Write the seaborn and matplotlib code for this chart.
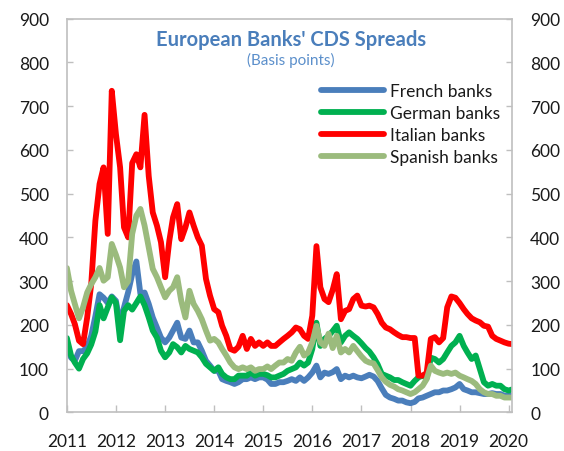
import numpy as np
import pandas as pd
import matplotlib
matplotlib.use("Agg")
import matplotlib.pyplot as plt
import matplotlib.dates as mdates
import seaborn as sns

# monthly readings, Jan 2011 .. Feb 2020 (basis points)
months = pd.date_range("2011-01-01", periods=110, freq="MS")

french = [150, 125, 118, 140, 140, 150, 175, 220, 270, 262, 250, 265,
          255, 200, 240, 275, 316, 345, 271, 274, 248, 217, 194, 171,
          160, 171, 187, 205, 171, 168, 187, 160, 160, 141, 118, 107,
          95, 95, 76, 72, 69, 65, 69, 76, 76, 80, 76, 80,
          80, 75, 65, 65, 69, 69, 72, 76, 72, 80, 72, 80,
          91, 107, 80, 91, 88, 92, 99, 76, 84, 80, 84, 80,
          78, 82, 86, 82, 72, 55, 40, 34, 31, 27, 27, 23,
          21, 24, 32, 34, 38, 42, 46, 46, 50, 50, 53, 57,
          65, 53, 50, 46, 46, 44, 42, 42, 44, 42, 42, 38,
          38, 38]

german = [170, 130, 114, 100, 122, 135, 155, 185, 245, 215, 240, 263,
          250, 165, 232, 245, 235, 250, 265, 245, 217, 187, 171, 141,
          126, 137, 156, 149, 137, 152, 145, 141, 137, 126, 111, 103,
          95, 103, 88, 80, 76, 76, 84, 84, 84, 91, 84, 88,
          88, 85, 80, 80, 84, 88, 95, 99, 103, 114, 107, 114,
          145, 205, 152, 168, 175, 186, 198, 160, 175, 183, 175, 168,
          158, 147, 139, 126, 110, 88, 84, 80, 74, 74, 69, 65,
          61, 72, 80, 84, 78, 125, 122, 114, 122, 137, 152, 160,
          175, 152, 137, 122, 130, 99, 69, 61, 65, 61, 61, 53,
          50, 53]

italian = [245, 225, 202, 164, 156, 217, 293, 438, 522, 560, 408, 735,
           636, 560, 423, 400, 570, 590, 560, 680, 540, 457, 427, 389,
           309, 392, 446, 476, 396, 423, 457, 427, 400, 381, 305, 267,
           236, 229, 198, 175, 145, 141, 150, 175, 145, 168, 152, 160,
           152, 160, 152, 152, 160, 168, 175, 183, 194, 190, 175, 168,
           221, 380, 286, 259, 252, 280, 316, 213, 232, 236, 259, 267,
           244, 242, 244, 240, 225, 205, 194, 190, 183, 177, 172, 172,
           170, 170, 84, 84, 90, 168, 172, 160, 170, 240, 265, 262,
           250, 236, 225, 215, 210, 206, 198, 196, 175, 168, 164, 160,
           157, 156]

spanish = [330, 278, 248, 215, 240, 274, 293, 309, 330, 301, 309, 385,
           360, 331, 286, 300, 408, 450, 465, 427, 377, 328, 309, 286,
           263, 278, 286, 309, 255, 217, 278, 248, 232, 213, 187, 164,
           168, 160, 145, 130, 114, 103, 99, 103, 99, 103, 95, 99,
           99, 105, 99, 107, 114, 114, 122, 118, 137, 150, 130, 137,
           160, 198, 160, 152, 180, 147, 175, 137, 145, 137, 152, 140,
           128, 118, 114, 112, 97, 80, 70, 63, 59, 53, 50, 46,
           42, 46, 53, 61, 76, 107, 95, 91, 88, 91, 88, 91,
           84, 80, 76, 72, 65, 53, 46, 42, 42, 38, 38, 34,
           34, 34]

banks = ["French banks", "German banks", "Italian banks", "Spanish banks"]
colors = ["#4a7ebb", "#00b050", "#ff0000", "#9bbb7d"]

df = pd.DataFrame({
    "date": np.tile(months, 4),
    "bank": np.repeat(banks, len(months)),
    "bps": french + german + italian + spanish,
})

sns.set_theme(style="white")
plt.rcParams["font.family"] = ["Lato", "DejaVu Sans"]

fig = plt.figure(figsize=(5.64, 4.52), dpi=100)
ax = fig.add_axes([0.1186, 0.0854, 0.7894, 0.8712])

sns.lineplot(data=df, x="date", y="bps", hue="bank", hue_order=banks,
             palette=colors, linewidth=4.2, errorbar=None, ax=ax,
             legend=False, solid_joinstyle="round", solid_capstyle="round")

ax.set_xlim(pd.Timestamp("2011-01-01"), pd.Timestamp("2020-01-27"))
ax.set_ylim(0, 900)
ax.set_yticks(range(0, 901, 100))
ax.xaxis.set_major_locator(mdates.YearLocator())
ax.xaxis.set_major_formatter(mdates.DateFormatter("%Y"))
ax.set_xlabel("")
ax.set_ylabel("")

for s in ax.spines.values():
    s.set_color("#bfbfbf")
    s.set_linewidth(1.2)

ax.tick_params(axis="y", direction="in", left=True, right=True,
               labelleft=True, labelright=True, length=4, width=1,
               color="#bfbfbf", pad=13, labelsize=12.5, labelcolor="#1a1a1a")
ax.tick_params(axis="x", direction="in", bottom=True, length=5, width=1,
               color="#bfbfbf", pad=15, labelsize=12.5, labelcolor="#1a1a1a")

ax.legend(handles=ax.get_lines()[:4], labels=banks, loc="upper left",
          bbox_to_anchor=(321 / 564, 1 - 84 / 452), bbox_transform=fig.transFigure,
          frameon=False, fontsize=12.5, handlelength=3.6, handletextpad=0.4,
          labelspacing=0.35, borderpad=0, borderaxespad=0, labelcolor="#1a1a1a")

fig.text(291 / 564, 1 - 40 / 452, "European Banks' CDS Spreads", ha="center",
         va="center", fontsize=14.5, fontweight="bold", color="#4a7ebb")
fig.text(291 / 564, 1 - 60 / 452, "(Basis points)", ha="center", va="center",
         fontsize=11, color="#5b8fcb")

fig.savefig("out.png", dpi=100)
